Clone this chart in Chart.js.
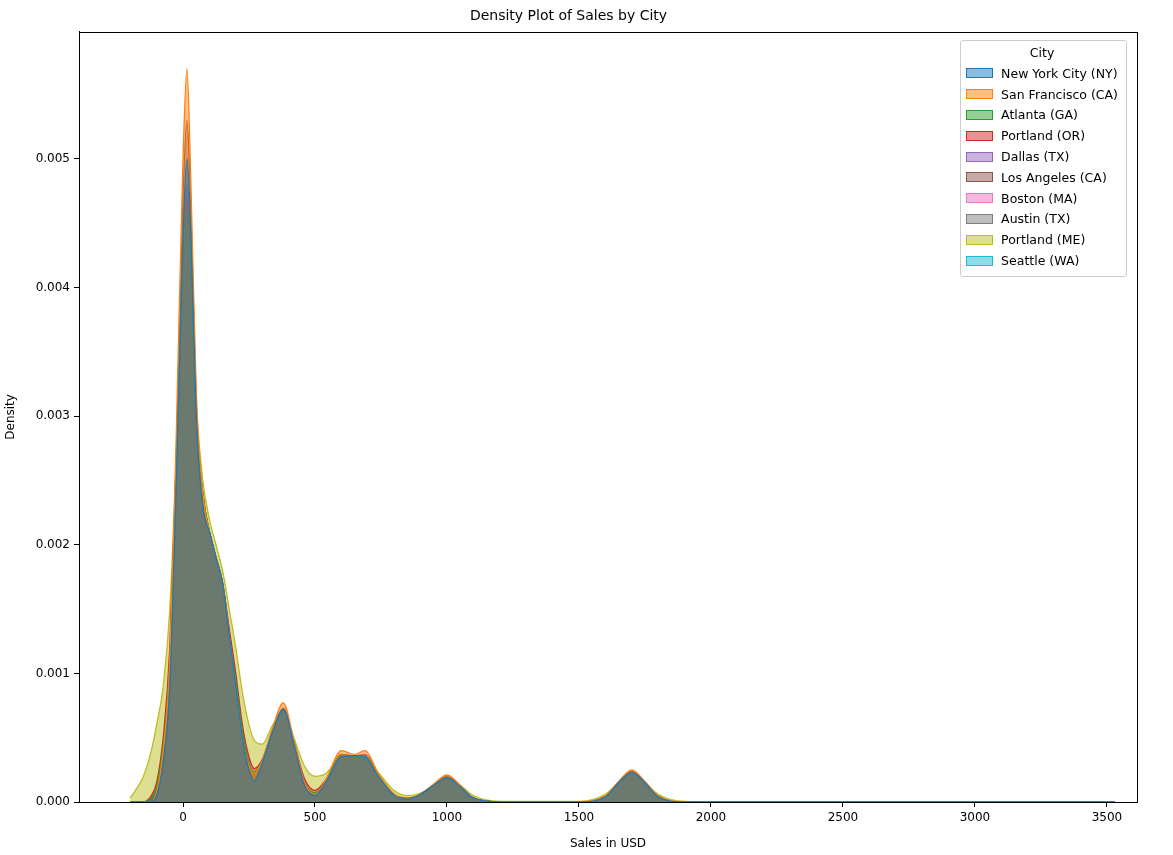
<!DOCTYPE html>
<html>
<head>
<meta charset="utf-8">
<script src="https://cdn.jsdelivr.net/npm/chart.js@4.4.1/dist/chart.umd.min.js"></script>
<style>
  body { margin: 0; background: #fff; font-family: "DejaVu Sans", sans-serif; }
  #wrap { position: relative; width: 1173px; height: 855px; }
  #legend { position: absolute; right: 46px; top: 40px; border: 1px solid #ccc; border-radius: 3px;
    background: rgba(255,255,255,0.8); padding: 4px 8px 5px 5px; font-size: 12.5px; color: #000; }
  #legend .t { text-align: center; margin-bottom: 3px; }
  #legend .row { display: flex; align-items: center; height: 20.8px; }
  #legend .sw { width: 27px; height: 10px; margin-right: 8px; box-sizing: border-box; border: 1px solid; }
</style>
</head>
<body>
<div id="wrap">
  <canvas id="c" width="1173" height="855"></canvas>
  <div id="legend"></div>
</div>
<script>
  const cities = [" New York City (NY)", " San Francisco (CA)", " Atlanta (GA)", " Portland (OR)", " Dallas (TX)",
    " Los Angeles (CA)", " Boston (MA)", " Austin (TX)", " Portland (ME)", " Seattle (WA)"];
  const colors = ["#1f77b4", "#ff7f0e", "#2ca02c", "#d62728", "#9467bd", "#8c564b", "#e377c2", "#7f7f7f", "#bcbd22", "#17becf"];

  // sales grid (USD)
  const salesX = [-200, -150, -120, -100, -75, -50, -25, 0, 15, 30, 50, 75, 100, 125, 150, 175, 200, 225, 250, 270,
    300, 340, 380, 420, 460, 500, 540, 600, 650, 690, 740, 800, 850, 900, 950, 1000, 1050, 1100, 1200, 1500,
    1600, 1650, 1700, 1750, 1800, 1900, 2200, 3530];

  // density values x 1e-4
  const nyc = [0, 0, 0, 0.5, 3, 9, 25, 44, 50, 44, 30, 23, 21, 19, 17, 13, 9, 5, 2.5, 1.6,
    3, 5.5, 7.2, 4.5, 1.3, 0.5, 1.5, 3.5, 3.6, 3.5, 2, 0.5, 0.2, 0.6, 1.3, 1.9, 1.2, 0.3, 0, 0,
    0.4, 1.5, 2.3, 1.5, 0.4, 0, 0, 0];
  const sf = [0, 0, 0, 0.8, 4, 11, 29, 50, 57, 48, 32, 24, 21, 19, 17, 13, 9, 5, 2.8, 2.2,
    3.2, 5.8, 7.7, 4.8, 1.5, 0.6, 1.7, 4, 3.7, 4, 2.2, 0.6, 0.2, 0.6, 1.4, 2.1, 1.3, 0.3, 0, 0,
    0.5, 1.6, 2.5, 1.6, 0.5, 0, 0, 0];
  const atlanta = [0, 0, 0.3, 1.2, 4.5, 11, 27, 42, 46, 42, 30, 24, 21, 19, 17, 13, 9.5, 5.5, 3, 2.3,
    3.2, 5.6, 7.1, 4.6, 1.5, 0.7, 1.6, 3.6, 3.6, 3.6, 2.1, 0.6, 0.25, 0.6, 1.3, 1.9, 1.2, 0.3, 0, 0,
    0.4, 1.5, 2.3, 1.5, 0.4, 0, 0, 0];
  const portlandOR = [0, 0, 0.5, 1.5, 5, 12, 27, 42, 47, 42, 30, 24, 21, 19, 17, 13.5, 10, 6, 3.5, 2.6,
    3.3, 5.6, 7.1, 4.7, 1.8, 0.9, 1.7, 3.6, 3.6, 3.6, 2.1, 0.6, 0.3, 0.6, 1.3, 1.9, 1.2, 0.3, 0, 0,
    0.4, 1.5, 2.3, 1.5, 0.4, 0, 0, 0];
  const dallas = [0, 0, 0.2, 1, 4, 10, 26, 43, 48, 43, 30, 23, 21, 19, 17, 13, 9, 5.2, 2.7, 1.9,
    3, 5.5, 7.2, 4.5, 1.4, 0.6, 1.5, 3.5, 3.6, 3.5, 2, 0.5, 0.2, 0.6, 1.3, 1.9, 1.2, 0.3, 0, 0,
    0.4, 1.5, 2.3, 1.5, 0.4, 0, 0, 0];
  const la = [0, 0, 0.2, 1, 4, 10, 27, 47, 53, 46, 31, 23, 21, 19, 17, 13, 9, 5, 2.6, 1.8,
    3, 5.5, 7.3, 4.6, 1.4, 0.6, 1.6, 3.7, 3.6, 3.7, 2.1, 0.5, 0.2, 0.6, 1.3, 2, 1.2, 0.3, 0, 0,
    0.4, 1.5, 2.4, 1.5, 0.4, 0, 0, 0];
  const boston = [0, 0, 0.1, 0.8, 3.5, 10, 26, 43, 48, 43, 30, 23, 21, 19, 17, 13, 9, 5, 2.6, 1.8,
    3, 5.5, 7.2, 4.5, 1.4, 0.6, 1.5, 3.5, 3.6, 3.5, 2, 0.5, 0.2, 0.6, 1.3, 1.9, 1.2, 0.3, 0, 0,
    0.4, 1.5, 2.3, 1.5, 0.4, 0, 0, 0];
  const austin = [0, 0, 0, 0.3, 2, 7, 22, 38, 42, 40, 29, 22, 20, 18, 16, 12, 8, 4, 1.8, 1.2,
    2.7, 5.2, 6.8, 4.2, 1.1, 0.4, 1.3, 3.3, 3.4, 3.3, 1.8, 0.4, 0.15, 0.5, 1.2, 1.8, 1.1, 0.3, 0, 0,
    0.4, 1.4, 2.2, 1.4, 0.4, 0, 0, 0];
  const portlandME = [0.3, 2, 4, 6, 9, 15, 27, 40, 45, 41, 31, 25, 22, 20, 18, 15, 12, 8.5, 6, 4.8,
    4.5, 6, 7, 5, 2.8, 2, 2.2, 3.5, 3.6, 3.5, 2.3, 0.9, 0.5, 0.7, 1.3, 1.8, 1.3, 0.5, 0.05, 0.05,
    0.6, 1.5, 2.1, 1.5, 0.6, 0.05, 0, 0];
  const seattle = [0, 0, 0, 0.6, 3, 9, 25, 43, 48, 43, 30, 23, 21, 19, 17, 13, 9, 5, 2.5, 1.7,
    3, 5.5, 7.2, 4.5, 1.3, 0.5, 1.5, 3.5, 3.6, 3.5, 2, 0.5, 0.2, 0.6, 1.3, 1.9, 1.2, 0.3, 0, 0,
    0.4, 1.5, 2.3, 1.5, 0.4, 0, 0, 0];
  const seriesVals = [nyc, sf, atlanta, portlandOR, dallas, la, boston, austin, portlandME, seattle];

  const xTicks = [0, 500, 1000, 1500, 2000, 2500, 3000, 3500];
  const yTicks = [0, 0.001, 0.002, 0.003, 0.004, 0.005];

  function hexA(h, a) {
    const n = parseInt(h.slice(1), 16);
    return `rgba(${n >> 16},${(n >> 8) & 255},${n & 255},${a})`;
  }

  const datasets = cities.map((name, i) => ({
    label: name,
    data: salesX.map((x, j) => ({ x, y: seriesVals[i][j] * 1e-4 })),
    borderColor: colors[i],
    backgroundColor: hexA(colors[i], 0.5),
    borderWidth: 1.3,
    fill: "origin",
    pointRadius: 0,
    tension: 0.35,
    cubicInterpolationMode: "monotone",
  }));

  const leg = document.getElementById("legend");
  leg.innerHTML = '<div class="t">City</div>' + cities.map((c, i) =>
    `<div class="row"><span class="sw" style="background:${hexA(colors[i], 0.5)};border-color:${colors[i]}"></span>${c.trim()}</div>`).join("");

  const frame = {
    id: "frame",
    afterDatasetsDraw(chart) {
      const a = chart.chartArea, ctx = chart.ctx;
      ctx.save();
      ctx.strokeStyle = "#000";
      ctx.lineWidth = 1;
      ctx.strokeRect(Math.round(a.left) + 0.5, Math.round(a.top) + 0.5, Math.round(a.right - a.left), Math.round(a.bottom - a.top));
      ctx.restore();
    },
  };

  const tickFont = { family: "DejaVu Sans", size: 12 };
  new Chart(document.getElementById("c"), {
    type: "line",
    data: { datasets },
    plugins: [frame],
    options: {
      responsive: false,
      animation: false,
      layout: { padding: { right: 36 } },
      plugins: {
        legend: { display: false },
        tooltip: { enabled: false },
        title: { display: true, text: "Density Plot of Sales by City", color: "#000",
          font: { family: "DejaVu Sans", size: 14, weight: "normal" }, padding: { top: 8, bottom: 7 } },
      },
      scales: {
        x: {
          type: "linear", min: -394, max: 3614,
          afterBuildTicks: (s) => { s.ticks = xTicks.map((v) => ({ value: v })); },
          afterFit: (s) => { s.height = 53; },
          ticks: { color: "#000", font: tickFont, maxRotation: 0, padding: 4, callback: (v) => String(v) },
          grid: { drawOnChartArea: false, tickLength: 5, color: "#000" },
          border: { color: "#000" },
          title: { display: true, text: "Sales in USD", color: "#000", font: tickFont, padding: { top: 0 } },
        },
        y: {
          min: 0, max: 0.005988,
          afterBuildTicks: (s) => { s.ticks = yTicks.map((v) => ({ value: v })); },
          afterFit: (s) => { s.width = 79; },
          ticks: { color: "#000", font: tickFont, padding: 4, callback: (v) => v.toFixed(3) },
          grid: { drawOnChartArea: false, tickLength: 5, color: "#000" },
          border: { color: "#000" },
          title: { display: true, text: "Density", color: "#000", font: tickFont, padding: { bottom: 2 } },
        },
      },
    },
  });
</script>
</body>
</html>
